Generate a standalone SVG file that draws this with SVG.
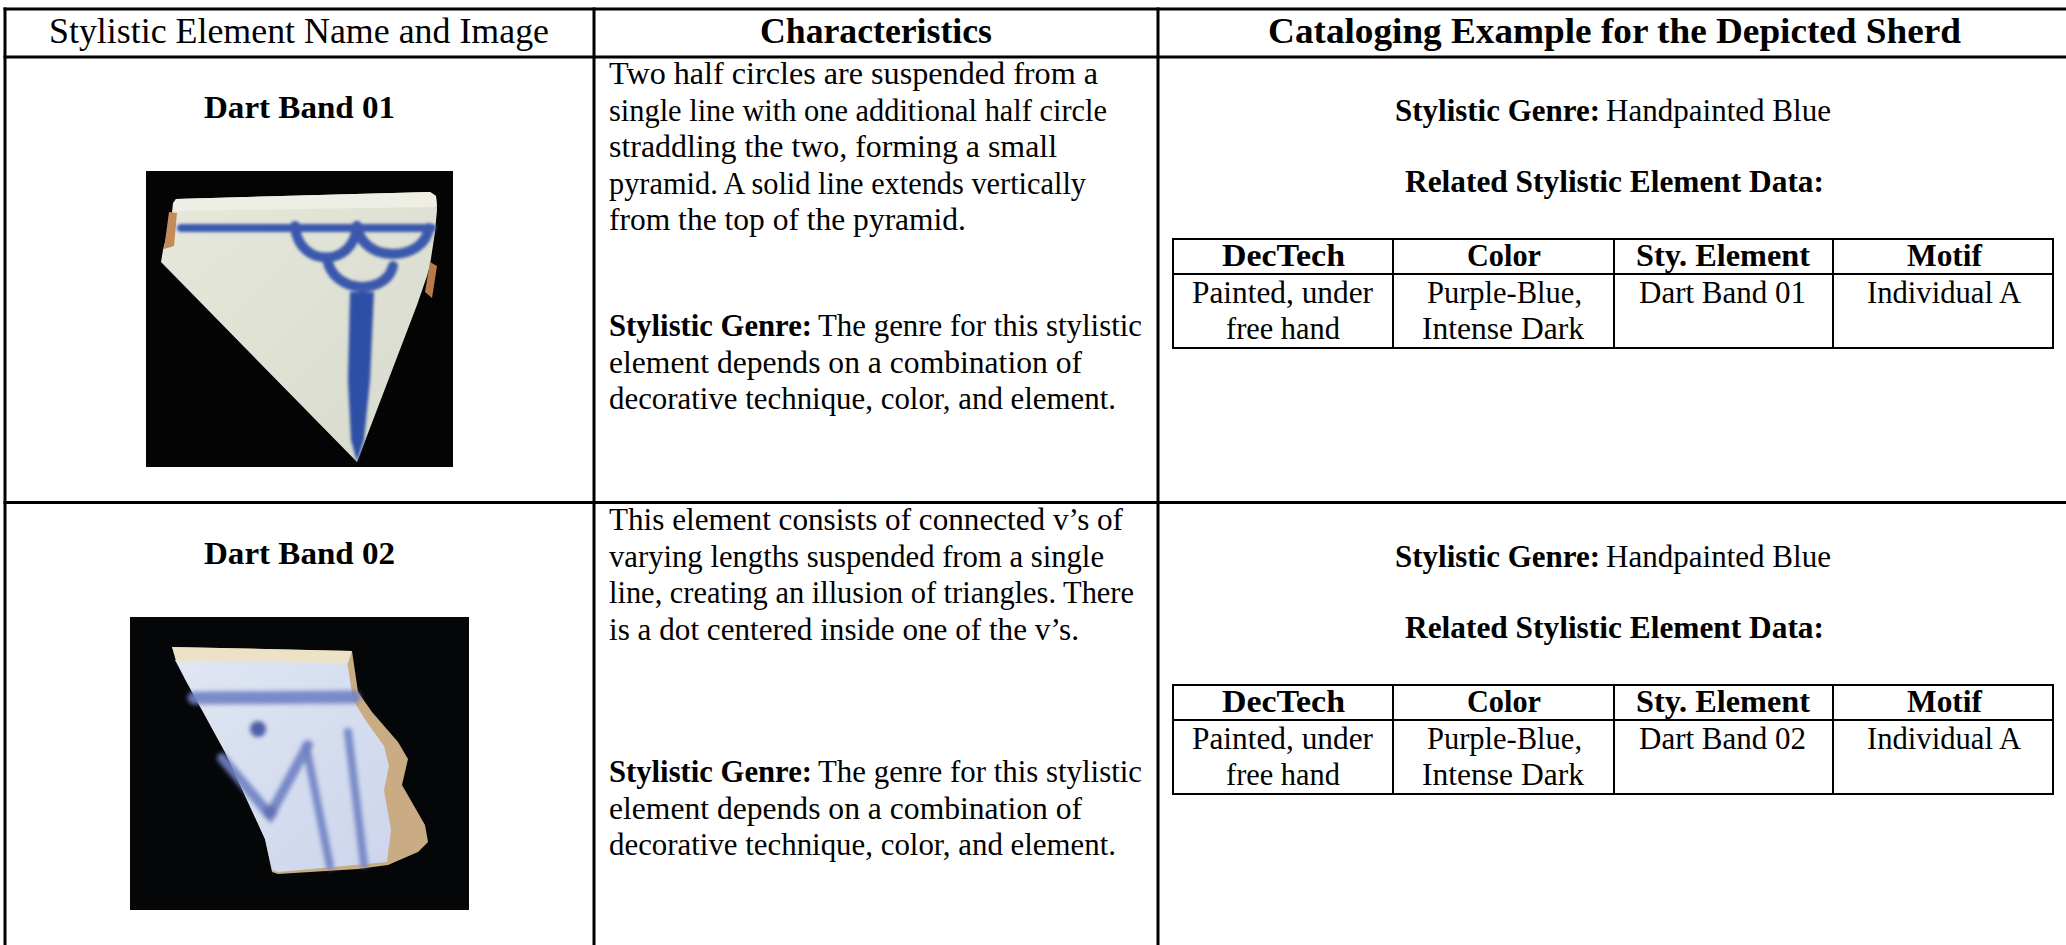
<svg xmlns="http://www.w3.org/2000/svg" width="2066" height="945" viewBox="0 0 2066 945">
<defs>
<style>
.t{font-family:"Liberation Serif","Times New Roman",serif;font-size:32px;fill:#000}
.b{font-weight:bold}
.h{font-size:36px}
.grid{stroke:#000;stroke-width:3;fill:none}
.inner{stroke:#000;stroke-width:2;fill:none}
.blue1{stroke:#3a59ad;fill:none;stroke-linecap:round}
.blue2{stroke:#6f82c4;fill:none;stroke-linecap:round;opacity:0.9}
</style>
<filter id="soft" x="-20%" y="-20%" width="140%" height="140%"><feGaussianBlur stdDeviation="1.6"/></filter>
<filter id="soft2" x="-20%" y="-20%" width="140%" height="140%"><feGaussianBlur stdDeviation="2"/></filter>
<linearGradient id="glaze1" x1="0" y1="0" x2="1" y2="1">
<stop offset="0" stop-color="#e6e8dc"/>
<stop offset="1" stop-color="#d6dacb"/>
</linearGradient>
<linearGradient id="glaze2" x1="0" y1="0" x2="1" y2="1">
<stop offset="0" stop-color="#e0e6f2"/>
<stop offset="1" stop-color="#ccd5ec"/>
</linearGradient>
</defs>
<rect x="0" y="0" width="2066" height="945" fill="#fff"/>

<g id="connectors">
<line class="grid" x1="3.5" y1="9" x2="2066" y2="9"/>
<line class="grid" x1="3.5" y1="57" x2="2066" y2="57"/>
<line class="grid" x1="3.5" y1="502.5" x2="2066" y2="502.5"/>
<line class="grid" x1="5" y1="7.5" x2="5" y2="945"/>
<line class="grid" x1="594" y1="7.5" x2="594" y2="945"/>
<line class="grid" x1="1158" y1="7.5" x2="1158" y2="945"/>
</g>

<g id="header">
<text class="t h" x="49" y="43" textLength="500" lengthAdjust="spacingAndGlyphs">Stylistic Element Name and Image</text>
<text class="t h b" x="760" y="43" textLength="232" lengthAdjust="spacingAndGlyphs">Characteristics</text>
<text class="t h b" x="1268" y="43" textLength="693" lengthAdjust="spacingAndGlyphs">Cataloging Example for the Depicted Sherd</text>
</g>

<g id="row1-name">
<text class="t b" x="204" y="118" textLength="191" lengthAdjust="spacingAndGlyphs">Dart Band 01</text>
<rect x="146" y="171" width="307" height="296" fill="#040404"/>
<polygon points="176,199 430,192 436,196 437,210 435,232 430,265 427,276 417,305 357,462 161,262 163,250 168,230 172,212 173,203" fill="url(#glaze1)"/>
<polygon points="176,199 430,192 436,196 437,207 176,211 173,205" fill="#eeeee4"/>
<polygon points="169,212 177,213 174,246 164,249" fill="#c48a5a"/>
<polygon points="430,262 437,266 432,298 425,292" fill="#b97a4a"/>
<g filter="url(#soft)">
<line class="blue1" x1="181" y1="228" x2="432" y2="228" stroke-width="8"/>
<path class="blue1" d="M295,226 C298,268 354,268 357,226" stroke-width="10"/>
<path class="blue1" d="M357,226 C362,264 424,262 429,228" stroke-width="10"/>
<path class="blue1" d="M327,258 C332,294 386,296 393,266" stroke-width="10"/>
<polygon points="350,292 374,292 370,380 364,440 357,462 351,440 348,380" fill="#2f4fa6"/>
</g>
</g>

<g id="row1-characteristics">
<text class="t" x="609" y="84" textLength="489" lengthAdjust="spacingAndGlyphs">Two half circles are suspended from a</text>
<text class="t" x="609" y="120.5" textLength="498" lengthAdjust="spacingAndGlyphs">single line with one additional half circle</text>
<text class="t" x="609" y="157" textLength="448" lengthAdjust="spacingAndGlyphs">straddling the two, forming a small</text>
<text class="t" x="609" y="193.5" textLength="477" lengthAdjust="spacingAndGlyphs">pyramid. A solid line extends vertically</text>
<text class="t" x="609" y="230" textLength="357" lengthAdjust="spacingAndGlyphs">from the top of the pyramid.</text>
<text class="t b" x="609" y="336" textLength="203" lengthAdjust="spacingAndGlyphs">Stylistic Genre:</text>
<text class="t" x="818" y="336" textLength="324" lengthAdjust="spacingAndGlyphs">The genre for this stylistic</text>
<text class="t" x="609" y="372.5" textLength="473" lengthAdjust="spacingAndGlyphs">element depends on a combination of</text>
<text class="t" x="609" y="409" textLength="507" lengthAdjust="spacingAndGlyphs">decorative technique, color, and element.</text>
</g>

<g id="row1-catalog">
<text class="t b" x="1395" y="121" textLength="205" lengthAdjust="spacingAndGlyphs">Stylistic Genre:</text>
<text class="t" x="1606" y="121" textLength="225" lengthAdjust="spacingAndGlyphs">Handpainted Blue</text>
<text class="t b" x="1405" y="192" textLength="419" lengthAdjust="spacingAndGlyphs">Related Stylistic Element Data:</text>
<rect class="inner" x="1173" y="239" width="880" height="109"/>
<line class="inner" x1="1173" y1="274" x2="2053" y2="274"/>
<line class="inner" x1="1393" y1="239" x2="1393" y2="348"/>
<line class="inner" x1="1614" y1="239" x2="1614" y2="348"/>
<line class="inner" x1="1833" y1="239" x2="1833" y2="348"/>
<text class="t b" x="1222" y="266" textLength="123" lengthAdjust="spacingAndGlyphs">DecTech</text>
<text class="t b" x="1467" y="266" textLength="74" lengthAdjust="spacingAndGlyphs">Color</text>
<text class="t b" x="1636" y="266" textLength="174" lengthAdjust="spacingAndGlyphs">Sty. Element</text>
<text class="t b" x="1907" y="266" textLength="75" lengthAdjust="spacingAndGlyphs">Motif</text>
<text class="t" x="1192" y="303" textLength="181" lengthAdjust="spacingAndGlyphs">Painted, under</text>
<text class="t" x="1226" y="339" textLength="114" lengthAdjust="spacingAndGlyphs">free hand</text>
<text class="t" x="1427" y="303" textLength="155" lengthAdjust="spacingAndGlyphs">Purple-Blue,</text>
<text class="t" x="1422" y="339" textLength="162" lengthAdjust="spacingAndGlyphs">Intense Dark</text>
<text class="t" x="1639" y="303" textLength="167" lengthAdjust="spacingAndGlyphs">Dart Band 01</text>
<text class="t" x="1867" y="303" textLength="154" lengthAdjust="spacingAndGlyphs">Individual A</text>
</g>

<g id="row2-name">
<text class="t b" x="204" y="564" textLength="191" lengthAdjust="spacingAndGlyphs">Dart Band 02</text>
<rect x="130" y="617" width="339" height="293" fill="#050608"/>
<polygon points="172,647 352,651 358,692 372,712 398,742 408,759 402,785 425,825 428,842 418,852 388,865 358,869 278,874 272,872 265,839 225,752 185,679" fill="#c9ab84"/>
<polygon points="175,660 347,660 353,700 366,721 384,746 389,766 384,790 391,830 387,862 278,872 272,870 265,839 225,752 185,679" fill="url(#glaze2)"/>
<polygon points="172,647 352,651 348,663 176,661" fill="#ece2c8"/>
<g filter="url(#soft2)">
<line class="blue2" x1="194" y1="698" x2="354" y2="697" stroke-width="13"/>
<circle cx="258" cy="729" r="8" fill="#4e60a8"/>
<polyline class="blue2" points="222,758 270,815 308,745" stroke-width="10"/>
<circle cx="270" cy="812" r="7" fill="#5a6cb0" opacity="0.8"/>
<line class="blue2" x1="306" y1="746" x2="330" y2="866" stroke-width="8"/>
<line class="blue2" x1="348" y1="732" x2="364" y2="864" stroke-width="8"/>
</g>
</g>

<g id="row2-characteristics">
<text class="t" x="609" y="530" textLength="514" lengthAdjust="spacingAndGlyphs">This element consists of connected v’s of</text>
<text class="t" x="609" y="566.5" textLength="495" lengthAdjust="spacingAndGlyphs">varying lengths suspended from a single</text>
<text class="t" x="609" y="603" textLength="525" lengthAdjust="spacingAndGlyphs">line, creating an illusion of triangles. There</text>
<text class="t" x="609" y="639.5" textLength="470" lengthAdjust="spacingAndGlyphs">is a dot centered inside one of the v’s.</text>
<text class="t b" x="609" y="782" textLength="203" lengthAdjust="spacingAndGlyphs">Stylistic Genre:</text>
<text class="t" x="818" y="782" textLength="324" lengthAdjust="spacingAndGlyphs">The genre for this stylistic</text>
<text class="t" x="609" y="818.5" textLength="473" lengthAdjust="spacingAndGlyphs">element depends on a combination of</text>
<text class="t" x="609" y="855" textLength="507" lengthAdjust="spacingAndGlyphs">decorative technique, color, and element.</text>
</g>

<g id="row2-catalog">
<text class="t b" x="1395" y="567" textLength="205" lengthAdjust="spacingAndGlyphs">Stylistic Genre:</text>
<text class="t" x="1606" y="567" textLength="225" lengthAdjust="spacingAndGlyphs">Handpainted Blue</text>
<text class="t b" x="1405" y="638" textLength="419" lengthAdjust="spacingAndGlyphs">Related Stylistic Element Data:</text>
<rect class="inner" x="1173" y="685" width="880" height="109"/>
<line class="inner" x1="1173" y1="720" x2="2053" y2="720"/>
<line class="inner" x1="1393" y1="685" x2="1393" y2="794"/>
<line class="inner" x1="1614" y1="685" x2="1614" y2="794"/>
<line class="inner" x1="1833" y1="685" x2="1833" y2="794"/>
<text class="t b" x="1222" y="712" textLength="123" lengthAdjust="spacingAndGlyphs">DecTech</text>
<text class="t b" x="1467" y="712" textLength="74" lengthAdjust="spacingAndGlyphs">Color</text>
<text class="t b" x="1636" y="712" textLength="174" lengthAdjust="spacingAndGlyphs">Sty. Element</text>
<text class="t b" x="1907" y="712" textLength="75" lengthAdjust="spacingAndGlyphs">Motif</text>
<text class="t" x="1192" y="749" textLength="181" lengthAdjust="spacingAndGlyphs">Painted, under</text>
<text class="t" x="1226" y="785" textLength="114" lengthAdjust="spacingAndGlyphs">free hand</text>
<text class="t" x="1427" y="749" textLength="155" lengthAdjust="spacingAndGlyphs">Purple-Blue,</text>
<text class="t" x="1422" y="785" textLength="162" lengthAdjust="spacingAndGlyphs">Intense Dark</text>
<text class="t" x="1639" y="749" textLength="167" lengthAdjust="spacingAndGlyphs">Dart Band 02</text>
<text class="t" x="1867" y="749" textLength="154" lengthAdjust="spacingAndGlyphs">Individual A</text>
</g>
</svg>
